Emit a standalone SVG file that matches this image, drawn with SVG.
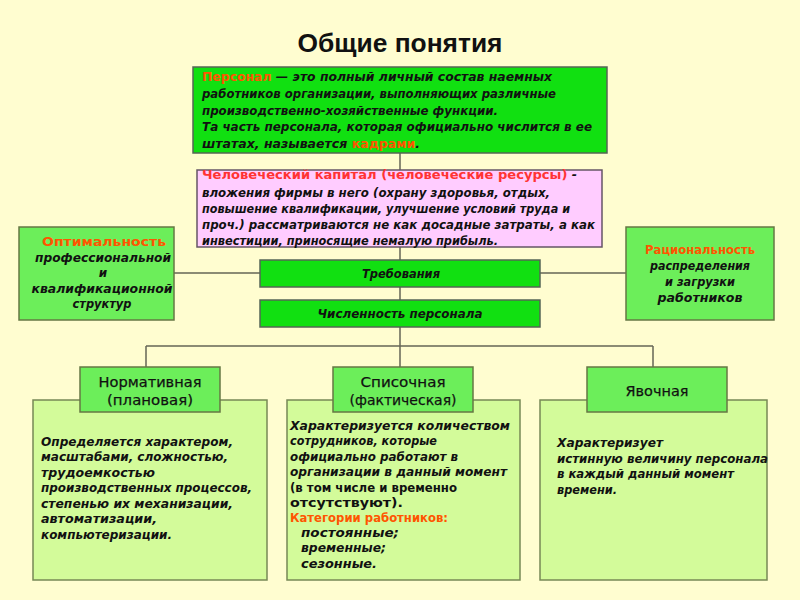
<svg xmlns="http://www.w3.org/2000/svg" width="800" height="600" viewBox="0 0 800 600">
<style>
.bg{fill:#FFFDD0}
.t{font-family:"DejaVu Sans",Verdana,sans-serif;font-size:12px;font-weight:bold;font-style:italic;fill:#111}
.n{font-family:"DejaVu Sans",Verdana,sans-serif;font-size:12.5px;font-weight:bold;fill:#111}
.h{font-family:"DejaVu Sans",Verdana,sans-serif;font-size:14.5px;fill:#111;text-anchor:middle;stroke:#111;stroke-width:0.25}
.c{text-anchor:middle}
.or{fill:#FF5500;font-style:normal}
.red{fill:#FF3333;font-style:normal}
.g1{fill:#11E011;stroke:#556655;stroke-width:1.5}
.g2{fill:#6CEE5A;stroke:#667744;stroke-width:1.5}
.g3{fill:#D3FB9A;stroke:#778855;stroke-width:1.5}
.pk{fill:#FFCCFF;stroke:#665566;stroke-width:1.5}
.ln{stroke:#666655;stroke-width:1.5;fill:none}
</style>
<rect class="bg" x="0" y="0" width="800" height="600"/>
<text x="400" y="52" text-anchor="middle" font-family="Liberation Sans,Arial,sans-serif" font-size="26" font-weight="bold" fill="#111" textLength="205" lengthAdjust="spacingAndGlyphs">Общие понятия</text>
<g id="connectors">
<path class="ln" d="M400 153V170M400 247V260M400 287V300M400 327V346M146 346H653M146 346V367M400 346V367M653 346V367M174 273H260M540 273H626"/>
</g>
<g id="personal">
<rect class="g1" x="193" y="67" width="414" height="86"/>
<text class="t" x="202" y="81" textLength="350" lengthAdjust="spacingAndGlyphs"><tspan class="or">Персонал</tspan> — это полный личный состав наемных</text>
<text class="t" x="202" y="98" textLength="354" lengthAdjust="spacingAndGlyphs">работников организации, выполняющих различные</text>
<text class="t" x="202" y="115" textLength="296" lengthAdjust="spacingAndGlyphs">производственно-хозяйственные функции.</text>
<text class="t" x="202" y="131" textLength="390" lengthAdjust="spacingAndGlyphs">Та часть персонала, которая официально числится в ее</text>
<text class="t" x="202" y="148" textLength="218" lengthAdjust="spacingAndGlyphs">штатах, называется <tspan class="or">кадрами</tspan>.</text>
</g>
<g id="capital">
<rect class="pk" x="197" y="170" width="405" height="77"/>
<text class="t" x="202" y="179" textLength="375" lengthAdjust="spacingAndGlyphs"><tspan class="red" font-size="12.5">Человеческий капитал (человеческие ресурсы)</tspan> -</text>
<text class="t" x="202" y="197" textLength="348" lengthAdjust="spacingAndGlyphs">вложения фирмы в него (охрану здоровья, отдых,</text>
<text class="t" x="202" y="213" textLength="368" lengthAdjust="spacingAndGlyphs">повышение квалификации, улучшение условий труда и</text>
<text class="t" x="202" y="229" textLength="393" lengthAdjust="spacingAndGlyphs">проч.) рассматриваются не как досадные затраты, а как</text>
<text class="t" x="202" y="245" textLength="296" lengthAdjust="spacingAndGlyphs">инвестиции, приносящие немалую прибыль.</text>
</g>
<g id="optimal">
<rect class="g2" x="19" y="227" width="155" height="93"/>
<text class="t c" x="104" y="246" textLength="124" lengthAdjust="spacingAndGlyphs"><tspan class="or">Оптимальность</tspan></text>
<text class="t c" x="103" y="262" textLength="136" lengthAdjust="spacingAndGlyphs">профессиональной</text>
<text class="t c" x="103" y="277">и</text>
<text class="t c" x="102" y="293" textLength="141" lengthAdjust="spacingAndGlyphs">квалификационной</text>
<text class="t c" x="102" y="308" textLength="59" lengthAdjust="spacingAndGlyphs">структур</text>
</g>
<g id="rational">
<rect class="g2" x="626" y="227" width="148" height="93"/>
<text class="t c" x="700" y="254" textLength="110" lengthAdjust="spacingAndGlyphs"><tspan class="or">Рациональность</tspan></text>
<text class="t c" x="700" y="270" textLength="100" lengthAdjust="spacingAndGlyphs">распределения</text>
<text class="t c" x="700" y="286" textLength="70" lengthAdjust="spacingAndGlyphs">и загрузки</text>
<text class="t c" x="700" y="302" textLength="85" lengthAdjust="spacingAndGlyphs">работников</text>
</g>
<g id="requirements">
<rect class="g1" x="260" y="260" width="280" height="27"/>
<text class="t c" x="401" y="278" font-weight="normal" textLength="78" lengthAdjust="spacingAndGlyphs">Требования</text>
</g>
<g id="headcount">
<rect class="g1" x="260" y="300" width="280" height="27"/>
<text class="t c" x="400" y="318" font-weight="normal" textLength="165" lengthAdjust="spacingAndGlyphs">Численность персонала</text>
</g>
<g id="normative">
<rect class="g3" x="33" y="400" width="234" height="180"/>
<rect class="g2" x="80" y="367" width="140" height="45"/>
<text class="h" x="150" y="387" textLength="103" lengthAdjust="spacingAndGlyphs">Нормативная</text>
<text class="h" x="150" y="405" textLength="86" lengthAdjust="spacingAndGlyphs">(плановая)</text>
<text class="t" x="41" y="446" textLength="192" lengthAdjust="spacingAndGlyphs">Определяется характером,</text>
<text class="t" x="41" y="461" textLength="187" lengthAdjust="spacingAndGlyphs">масштабами, сложностью,</text>
<text class="t" x="41" y="477" textLength="114" lengthAdjust="spacingAndGlyphs">трудоемкостью</text>
<text class="t" x="41" y="492" textLength="211" lengthAdjust="spacingAndGlyphs">производственных процессов,</text>
<text class="t" x="41" y="508" textLength="192" lengthAdjust="spacingAndGlyphs">степенью их механизации,</text>
<text class="t" x="41" y="523" textLength="116" lengthAdjust="spacingAndGlyphs">автоматизации,</text>
<text class="t" x="41" y="539" textLength="131" lengthAdjust="spacingAndGlyphs">компьютеризации.</text>
</g>
<g id="list">
<rect class="g3" x="287" y="400" width="233" height="180"/>
<rect class="g2" x="333" y="367" width="140" height="45"/>
<text class="h" x="403" y="387" textLength="85" lengthAdjust="spacingAndGlyphs">Списочная</text>
<text class="h" x="403" y="405" textLength="107" lengthAdjust="spacingAndGlyphs">(фактическая)</text>
<text class="t" x="290" y="430" textLength="220" lengthAdjust="spacingAndGlyphs">Характеризуется количеством</text>
<text class="t" x="290" y="445" textLength="147" lengthAdjust="spacingAndGlyphs">сотрудников, которые</text>
<text class="t" x="290" y="461" textLength="168" lengthAdjust="spacingAndGlyphs">официально работают в</text>
<text class="t" x="290" y="476" textLength="217" lengthAdjust="spacingAndGlyphs">организации в данный момент</text>
<text class="n" x="290" y="492" textLength="167" lengthAdjust="spacingAndGlyphs">(в том числе и временно</text>
<text class="n" x="290" y="507" textLength="113" lengthAdjust="spacingAndGlyphs">отсутствуют).</text>
<text class="t" x="290" y="522" textLength="158" lengthAdjust="spacingAndGlyphs"><tspan class="or">Категории работников:</tspan></text>
<text class="t" x="301" y="537" textLength="98" lengthAdjust="spacingAndGlyphs">постоянные;</text>
<text class="t" x="301" y="552" textLength="85" lengthAdjust="spacingAndGlyphs">временные;</text>
<text class="t" x="301" y="568" textLength="76" lengthAdjust="spacingAndGlyphs">сезонные.</text>
</g>
<g id="attendance">
<rect class="g3" x="540" y="400" width="227" height="180"/>
<rect class="g2" x="587" y="367" width="140" height="45"/>
<text class="h" x="657" y="396" textLength="63" lengthAdjust="spacingAndGlyphs">Явочная</text>
<text class="t" x="557" y="447" textLength="106" lengthAdjust="spacingAndGlyphs">Характеризует</text>
<text class="t" x="557" y="463" textLength="211" lengthAdjust="spacingAndGlyphs">истинную величину персонала</text>
<text class="t" x="557" y="478" textLength="177" lengthAdjust="spacingAndGlyphs">в каждый данный момент</text>
<text class="t" x="557" y="494" textLength="60" lengthAdjust="spacingAndGlyphs">времени.</text>
</g>
</svg>
